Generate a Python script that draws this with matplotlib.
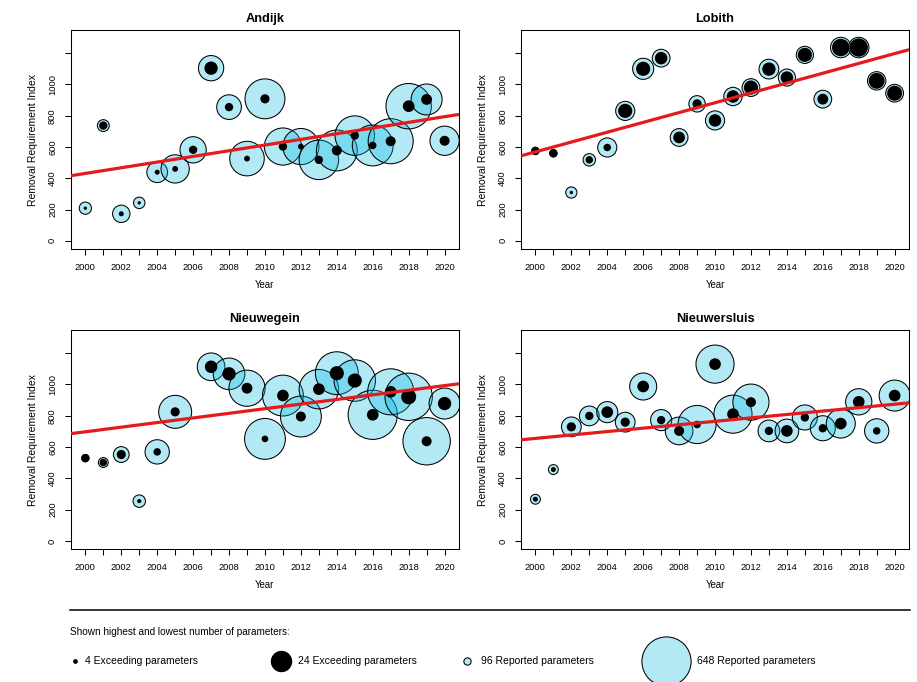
import numpy as np
import matplotlib
matplotlib.use("Agg")
import matplotlib.pyplot as plt

plt.rcParams['font.family'] = ['Liberation Sans', 'DejaVu Sans']

years = np.arange(2000, 2021)

# removal requirement index per station
# (Nieuwegein 2006 lies above the plotted range, only the trend shows it)
andijk_idx = [209, 737, 173, 243, 439, 460, 582, 1104, 855, 526, 908,
              603, 603, 518, 578, 673, 610, 637, 861, 904, 640]
lobith_idx = [575, 560, 309, 518, 597, 831, 1100, 1168, 661, 876, 770,
              923, 980, 1098, 1044, 1189, 906, 1236, 1236, 1023, 944]
nieuwegein_idx = [529, 501, 552, 254, 569, 825, 1720, 1113, 1068, 976, 652,
                  929, 795, 970, 1072, 1025, 806, 953, 921, 637, 878]
nieuwersluis_idx = [266, 456, 729, 799, 823, 759, 987, 772, 703, 744, 1130,
                    810, 887, 703, 703, 789, 720, 750, 889, 703, 929]

# number of reported parameters
andijk_rep = [161, 156, 229, 151, 273, 372, 346, 333, 325, 455, 525,
              489, 476, 520, 538, 520, 538, 593, 598, 408, 385]
lobith_rep = [96, 96, 148, 164, 252, 252, 278, 234, 234, 216, 252,
              242, 234, 260, 226, 226, 234, 270, 270, 242, 234]
nieuwegein_rep = [96, 130, 208, 164, 320, 434, 400, 364, 416, 476, 538,
                  538, 538, 520, 564, 546, 648, 606, 624, 624, 408]
nieuwersluis_rep = [130, 130, 260, 260, 278, 260, 356, 278, 364, 502, 502,
                    502, 476, 286, 312, 330, 330, 382, 346, 320, 408]

# number of exceeding parameters
andijk_exc = [4, 10, 6, 4, 6, 7, 10, 16, 10, 7, 11,
              10, 7, 10, 12, 10, 9, 12, 14, 13, 12]
lobith_exc = [10, 10, 4, 9, 9, 17, 17, 15, 14, 11, 15,
              15, 17, 16, 15, 17, 13, 21, 22, 19, 18]
nieuwegein_exc = [10, 9, 11, 5, 9, 11, 12, 15, 16, 13, 8,
                  14, 12, 14, 17, 17, 14, 14, 18, 12, 16]
nieuwersluis_exc = [6, 6, 11, 10, 14, 11, 14, 10, 12, 9, 14,
                    14, 12, 10, 14, 10, 10, 14, 14, 9, 14]

stations = ['Andijk', 'Lobith', 'Nieuwegein', 'Nieuwersluis']
idx_data = [andijk_idx, lobith_idx, nieuwegein_idx, nieuwersluis_idx]
rep_data = [andijk_rep, lobith_rep, nieuwegein_rep, nieuwersluis_rep]
exc_data = [andijk_exc, lobith_exc, nieuwegein_exc, nieuwersluis_exc]

blue_face = (0.0, 0.725, 0.882, 0.3)
red = '#E41A1C'

# radius in pixels per parameter
k_rep = 24.6 / 648
k_exc = 10.0 / 24


def size(count, k):
    # scatter area (pt^2) for a circle of radius count*k pixels
    r = np.asarray(count, dtype=float) * k
    return (2 * r * 0.72) ** 2


fig = plt.figure(figsize=(9.17, 6.82), dpi=100)

# overlay in pixel coordinates for the legend block
ov = fig.add_axes([0, 0, 1, 1])
ov.set_xlim(0, 917)
ov.set_ylim(682, 0)
ov.axis('off')

positions = [[0.0774, 0.6349, 0.4231, 0.3211],
             [0.5682, 0.6349, 0.4231, 0.3211],
             [0.0774, 0.1950, 0.4231, 0.3211],
             [0.5682, 0.1950, 0.4231, 0.3211]]

for name, pos, y, rep, exc in zip(stations, positions, idx_data, rep_data, exc_data):
    ax = fig.add_axes(pos)
    y = np.array(y, dtype=float)

    ax.scatter(years, y, s=size(rep, k_rep), facecolors=blue_face,
               edgecolors='black', linewidths=0.75, zorder=2)
    ax.scatter(years, y, s=size(exc, k_exc), facecolors='black',
               edgecolors='none', zorder=3)

    # linear trend
    b, a = np.polyfit(years, y, 1)
    xl = np.array([1999.2, 2020.8])
    ax.plot(xl, a + b * xl, color=red, lw=2.3, zorder=4, solid_capstyle='butt')

    ax.set_xlim(1999.2, 2020.8)
    ax.set_ylim(-52, 1348)
    ax.set_xticks(years)
    ax.set_xticklabels([str(v) if v % 2 == 0 else '' for v in years])
    ax.set_yticks(np.arange(0, 1201, 200))
    ax.set_yticklabels([str(v) if v < 1200 else '' for v in range(0, 1201, 200)],
                       rotation=90, va='center')
    ax.tick_params(length=4, width=0.75, labelsize=6.7, pad=6)
    for sp in ax.spines.values():
        sp.set_linewidth(0.75)
    ax.set_title(name, fontsize=9.2, fontweight='bold', pad=6)
    ax.set_xlabel('Year', fontsize=6.9, labelpad=6)
    ax.set_ylabel('Removal Requirement Index', fontsize=7.5, labelpad=7)

# legend block
ov.plot([70, 910], [610, 610], color='black', lw=1.1)
ov.text(70, 632, 'Shown highest and lowest number of parameters:',
        fontsize=7.2, va='center', ha='left')
leg_y = 661
ov.scatter([75], [leg_y], s=size(4, k_exc), color='black')
ov.text(85, leg_y, '4 Exceeding parameters', fontsize=7.5, va='center')
ov.scatter([281], [leg_y], s=size(24, k_exc), color='black')
ov.text(298, leg_y, '24 Exceeding parameters', fontsize=7.5, va='center')
ov.scatter([467], [leg_y], s=size(96, k_rep), facecolors=blue_face,
           edgecolors='black', linewidths=0.75)
ov.text(481, leg_y, '96 Reported parameters', fontsize=7.5, va='center')
ov.scatter([666], [leg_y], s=size(648, k_rep), facecolors=blue_face,
           edgecolors='black', linewidths=0.75, clip_on=False)
ov.text(697, leg_y, '648 Reported parameters', fontsize=7.5, va='center')

fig.savefig('out.png', dpi=100)
